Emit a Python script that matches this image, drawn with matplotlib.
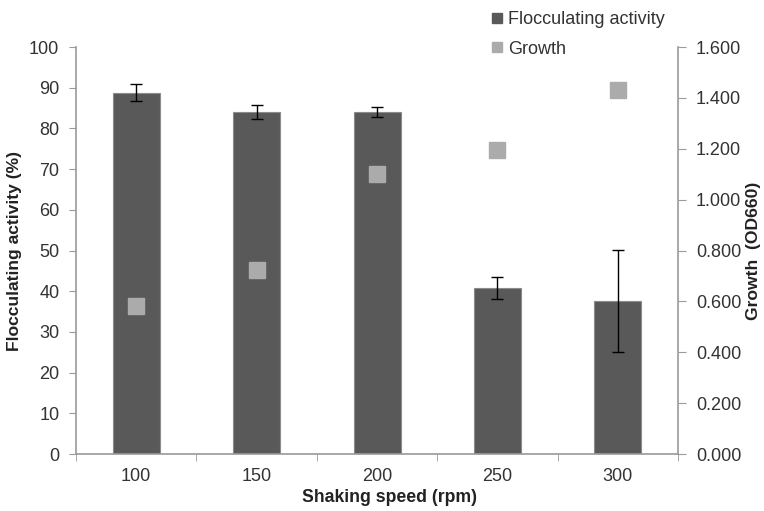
import matplotlib.pyplot as plt
from matplotlib.lines import Line2D
from matplotlib.ticker import FixedLocator, NullFormatter, FormatStrFormatter

plt.rcParams['font.family'] = ['Liberation Sans', 'DejaVu Sans']

# datos
speeds = ['100', '150', '200', '250', '300']
flocculating = [88.8, 84.1, 84.1, 40.8, 37.6]
floc_err = [2.0, 1.7, 1.2, 2.6, 12.6]
growth = [0.582, 0.723, 1.100, 1.196, 1.431]

bar_color = '#595959'
growth_color = '#ababab'
axis_color = '#9a9a9a'
text_color = '#333333'

fig = plt.figure(figsize=(7.64, 5.11), dpi=100)
ax = fig.add_axes([0.0995, 0.1115, 0.7880, 0.7965])
x = list(range(len(speeds)))

ax.bar(x, flocculating, width=0.39, color=bar_color, edgecolor='#8c8c8c',
       linewidth=0.8, zorder=2)
ax.errorbar(x, flocculating, yerr=floc_err, fmt='none', ecolor='black',
            elinewidth=1.0, capsize=4, capthick=1.0, zorder=3)

ax.set_xlim(-0.5, len(speeds) - 0.5)
ax.set_ylim(0, 100)
ax.set_yticks(range(0, 101, 10))
ax.set_xticks(x)
ax.set_xticklabels(speeds)
ax.xaxis.set_minor_locator(FixedLocator([i - 0.5 for i in range(len(speeds) + 1)]))
ax.xaxis.set_minor_formatter(NullFormatter())
ax.tick_params(axis='x', which='major', length=0, labelsize=13,
               labelcolor=text_color, pad=10)
ax.tick_params(axis='x', which='minor', length=5, color=axis_color, direction='out')
ax.tick_params(axis='y', length=5, color=axis_color, labelsize=13,
               labelcolor=text_color, pad=7)

for s in ['top', 'right']:
    ax.spines[s].set_visible(False)
for s in ['left', 'bottom']:
    ax.spines[s].set_color(axis_color)
    ax.spines[s].set_linewidth(1.2)

ax.set_xlabel('Shaking speed (rpm)', fontsize=12.7, fontweight='bold',
              color='#222222', labelpad=2)
ax.xaxis.set_label_coords(0.52, -0.085)
ax.set_ylabel('Flocculating activity (%)', fontsize=12.6, fontweight='bold',
              color='#222222', labelpad=5)

ax2 = ax.twinx()
ax2.plot(x, growth, linestyle='none', marker='s', markersize=11,
         color=growth_color, zorder=4)
ax2.set_ylim(0, 1.6)
ax2.set_yticks([i * 0.2 for i in range(9)])
ax2.yaxis.set_major_formatter(FormatStrFormatter('%.3f'))
ax2.tick_params(axis='y', length=6, color=axis_color, labelsize=13,
                labelcolor=text_color, pad=7)
for s in ['top', 'left', 'bottom']:
    ax2.spines[s].set_visible(False)
ax2.spines['right'].set_color(axis_color)
ax2.spines['right'].set_linewidth(1.2)
ax2.set_ylabel('Growth  (OD660)', fontsize=12.6, fontweight='bold',
               color='#222222', labelpad=3)

handles = [
    Line2D([], [], linestyle='none', marker='s', markersize=7, color=bar_color),
    Line2D([], [], linestyle='none', marker='s', markersize=7, color=growth_color),
]
fig.legend(handles, ['Flocculating activity', 'Growth'], loc='upper left',
           bbox_to_anchor=(0.622, 1.01), frameon=False, fontsize=13,
           handlelength=0.6, handletextpad=0.3, labelspacing=0.7,
           labelcolor=text_color)

fig.savefig('out.png', dpi=100)
plt.close(fig)
